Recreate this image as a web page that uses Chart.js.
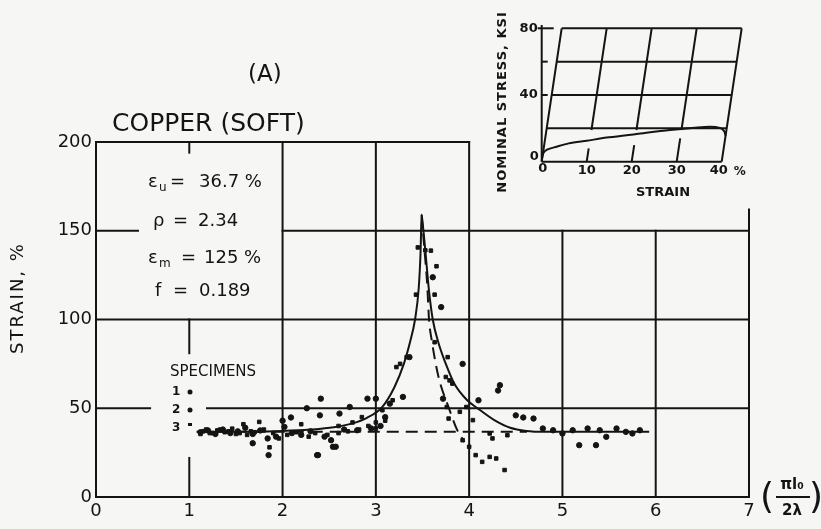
<!DOCTYPE html>
<html>
<head>
<meta charset="utf-8">
<script src="https://cdn.jsdelivr.net/npm/chart.js@4.4.0/dist/chart.umd.min.js"></script>
<style>
  html, body { margin: 0; padding: 0; background: #f6f6f4; }
  #wrap { position: relative; width: 821px; height: 529px; overflow: hidden; }
  #main { position: absolute; left: 0; top: 0; }
  #inset { position: absolute; left: 470px; top: 0; }
</style>
</head>
<body>
<div id="wrap">
  <canvas id="main" width="821" height="529"></canvas>
  <canvas id="inset" width="351" height="210"></canvas>
</div>
<script>
// eixos do gráfico principal
const xTicks = [0, 1, 2, 3, 4, 5, 6, 7];
const yTicks = [0, 50, 100, 150, 200];

// curva teórica (linha cheia)
const teoriaX = [1.08, 1.6, 2.0, 2.3, 2.55, 2.75, 2.9, 3.065, 3.2, 3.3, 3.37, 3.42, 3.46, 3.48, 3.49,
                 3.5, 3.53, 3.57, 3.61, 3.67, 3.75, 3.84, 3.98, 4.09, 4.27, 4.44, 4.62, 4.8, 5.93];
const teoriaY = [36.7, 36.8, 37.2, 38, 39.3, 41.5, 44.5, 50.5, 62, 75, 88, 100, 118, 139, 159,
                 155, 139, 116, 100, 87, 75, 64, 54.5, 50, 43.3, 39, 37.2, 36.7, 36.7];

// ramo tracejado (descida rápida)
const tracoX = [3.49, 3.52, 3.55, 3.57, 3.6, 3.67, 3.78, 3.87, 3.95];
const tracoY = [159, 140, 120, 100, 88, 68, 50.5, 38, 31];

// linha tracejada de εu
const euX = [1.08, 4.62];
const euY = [36.7, 36.7];

// pontos experimentais
const spec1X = [2.00, 2.09, 2.26, 2.41, 2.40, 2.61, 2.72, 2.91, 3.00, 3.15, 3.29, 3.36, 3.61, 3.70, 3.72,
                3.93, 4.31, 4.33, 4.10, 4.50, 4.58, 4.69, 5.18, 5.36, 2.37, 1.68, 2.02];
const spec1Y = [43, 44.8, 50, 55.4, 46, 47, 50.7, 55.4, 55.4, 52.6, 56.4, 78.8, 123.8, 107, 55.4,
                75, 60, 63, 54.5, 46, 44.8, 44.2, 29.2, 29.2, 23.6, 30.3, 39.5];
const spec2X = [1.12, 1.2, 1.28, 1.36, 1.44, 1.52, 1.6, 1.68, 1.76, 1.84, 1.93, 2.1, 2.2, 2.3, 2.45, 2.52,
                2.57, 2.66, 2.8, 2.95, 3.05, 3.1, 4.79, 4.9, 5.0, 5.11, 5.27, 5.4, 5.47, 5.58, 5.68,
                5.75, 5.83, 1.85, 2.38, 2.54];
const spec2Y = [36.5, 37.5, 35.5, 38, 36, 37, 39, 35.5, 37.5, 33, 34, 36, 35, 37, 34, 32,
                28.3, 38, 37.6, 38.6, 40, 45, 38.6, 37.6, 35.8, 37.6, 38.6, 37.6, 33.9, 38.6, 36.7,
                35.8, 37.6, 23.6, 23.6, 28.3];
const spec3X = [1.15, 1.25, 1.33, 1.42, 1.5, 1.58, 1.66, 1.75, 1.86, 2.2, 2.6, 2.75, 2.85, 3.0, 3.07,
                3.18, 3.22, 3.26, 3.33, 3.43, 3.45, 3.53, 3.59, 3.63, 3.65, 3.63, 3.77, 3.75, 3.82,
                3.79, 3.76, 3.78, 3.90, 3.97, 4.04, 3.93, 4.0, 4.07, 4.14, 4.22, 4.29, 4.38, 4.22,
                4.25, 4.41,
                1.12, 1.18, 1.22, 1.3, 1.38, 1.46, 1.54, 1.62, 1.7, 1.8, 1.9, 1.96, 2.05, 2.15,
                2.28, 2.35, 2.48, 2.6, 2.7, 2.82, 2.92, 3.0, 3.1];
const spec3Y = [37, 36, 38, 37, 35.5, 41, 37, 42.3, 28, 41, 40, 42, 45, 38.6, 48.9,
                54.5, 73.2, 75, 78.8, 114, 140.6, 139, 138.8, 114, 130, 87.2, 78.8, 67.6, 63.9,
                65.7, 50.7, 44.2, 48, 50.7, 43.3, 32, 28.3, 23.6, 19.8, 22.6, 21.7, 15.2, 35.8,
                33, 34.8,
                35.5, 38, 36, 37.5, 36.5, 38.5, 36, 35, 36.5, 38, 36, 33, 35, 36.5,
                34, 36, 35, 36, 37, 38, 40, 42, 43];

// gráfico inserido: curva tensão-deformação
const curvaX = [0, 0.36, 1.2, 3.3, 6, 10, 15, 21.1, 28.5, 34, 37.4, 39.6, 40.5, 40.9];
const curvaY = [1, 5, 7.2, 9, 11, 12.6, 14.6, 16.6, 19, 20.4, 21, 20.3, 18.5, 15.5];
const insetStrainTicks = [0, 10, 20, 30, 40];
const insetStressTicks = [0, 20, 40, 60, 80];

const pts = (xs, ys) => xs.map((x, i) => ({ x: x, y: ys[i] }));
const INK = '#141414';
const FONT = '"DejaVu Sans", sans-serif';

// linhas da grade (com as interrupções do original)
const gradeSegmentos = [
  [0, 0, 7, 0], [0, 0, 0, 200], [0, 200, 4, 200],
  [0, 50, 0.58, 50], [1.19, 50, 7, 50],
  [0, 100, 7, 100],
  [0, 150, 0.45, 150], [2, 150, 7, 150],
  [1, 200, 1, 194], [1, 100, 1, 81], [1, 22, 1, 0],
  [2, 0, 2, 200], [3, 0, 3, 200], [4, 0, 4, 200],
  [5, 0, 5, 150], [6, 0, 6, 150], [7, 0, 7, 162]
];

function txt(ctx, s, x, y, font, align) {
  ctx.font = font;
  ctx.textAlign = align || 'left';
  ctx.textBaseline = 'middle';
  ctx.fillText(s, x, y);
}

const gradePlugin = {
  id: 'grade',
  beforeDatasetsDraw(chart) {
    const ctx = chart.ctx, sx = chart.scales.x, sy = chart.scales.y;
    ctx.save();
    ctx.strokeStyle = INK;
    ctx.lineWidth = 2;
    ctx.lineCap = 'square';
    gradeSegmentos.forEach(s => {
      ctx.beginPath();
      ctx.moveTo(sx.getPixelForValue(s[0]), sy.getPixelForValue(s[1]));
      ctx.lineTo(sx.getPixelForValue(s[2]), sy.getPixelForValue(s[3]));
      ctx.stroke();
    });
    ctx.restore();
  },
  afterDraw(chart) {
    const ctx = chart.ctx;
    ctx.save();
    ctx.fillStyle = INK;
    txt(ctx, '(A)', 248, 75, '23px ' + FONT);
    txt(ctx, 'COPPER (SOFT)', 112, 124, '25px ' + FONT);

    // parâmetros
    const f18 = '18px ' + FONT, f12 = '12px ' + FONT;
    txt(ctx, 'ε', 148, 182, f18); txt(ctx, 'u', 159, 188, f12);
    txt(ctx, '=', 170, 182, f18); txt(ctx, '36.7 %', 199, 182, f18);
    txt(ctx, 'ρ', 153, 221, f18); txt(ctx, '=', 173, 221, f18); txt(ctx, '2.34', 198, 221, f18);
    txt(ctx, 'ε', 148, 258, f18); txt(ctx, 'm', 159, 264, f12);
    txt(ctx, '=', 181, 258, f18); txt(ctx, '125 %', 204, 258, f18);
    txt(ctx, 'f', 155, 291, f18); txt(ctx, '=', 173, 291, f18); txt(ctx, '0.189', 199, 291, f18);

    // legenda dos corpos de prova
    txt(ctx, 'SPECIMENS', 170, 372, '15px ' + FONT);
    const fb = 'bold 12px ' + FONT;
    txt(ctx, '1', 172, 392, fb); txt(ctx, '2', 172, 410, fb); txt(ctx, '3', 172, 428, fb);
    ctx.beginPath(); ctx.arc(190, 392, 2.5, 0, Math.PI * 2); ctx.fill();
    ctx.beginPath(); ctx.arc(190, 410, 2.5, 0, Math.PI * 2); ctx.fill();
    ctx.fillRect(188, 423, 4, 3);

    // título do eixo y
    ctx.save();
    ctx.translate(18, 298);
    ctx.rotate(-Math.PI / 2);
    ctx.letterSpacing = '2px';
    txt(ctx, 'STRAIN, %', 0, 0, '18px ' + FONT, 'center');
    ctx.restore();

    // título do eixo x (fração)
    txt(ctx, '(', 767, 499, '36px ' + FONT, 'center');
    txt(ctx, ')', 816, 499, '36px ' + FONT, 'center');
    txt(ctx, 'πl₀', 792, 485, 'bold 15px ' + FONT, 'center');
    txt(ctx, '2λ', 792, 511, 'bold 15px ' + FONT, 'center');
    ctx.fillRect(776, 496, 34, 2);
    ctx.restore();
  }
};

const lineDs = (data, dash) => ({
  data: data, showLine: true, pointRadius: 0, borderColor: INK, borderWidth: 2,
  borderDash: dash, cubicInterpolationMode: 'monotone', fill: false
});
const ptDs = (data, style, r) => ({
  data: data, showLine: false, pointStyle: style, pointRadius: r,
  backgroundColor: INK, borderColor: INK, borderWidth: 1
});

new Chart(document.getElementById('main'), {
  type: 'scatter',
  data: {
    datasets: [
      lineDs(pts(teoriaX, teoriaY), []),
      lineDs(pts(tracoX, tracoY), [12, 7]),
      lineDs(pts(euX, euY), [12, 7]),
      ptDs(pts(spec1X, spec1Y), 'circle', 2.7),
      ptDs(pts(spec2X, spec2Y), 'circle', 2.7),
      ptDs(pts(spec3X, spec3Y), 'rect', 2.5)
    ]
  },
  options: {
    responsive: false,
    animation: false,
    layout: { padding: { top: 142, right: 72, left: 0, bottom: 0 } },
    plugins: { legend: { display: false }, tooltip: { enabled: false } },
    scales: {
      x: {
        type: 'linear', min: 0, max: 7,
        afterBuildTicks: s => { s.ticks = xTicks.map(v => ({ value: v })); },
        afterFit: s => { s.height = 32; },
        grid: { display: false, drawTicks: false },
        border: { display: false },
        ticks: { color: INK, padding: 4, font: { family: 'DejaVu Sans', size: 18 } }
      },
      y: {
        type: 'linear', min: 0, max: 200,
        afterBuildTicks: s => { s.ticks = yTicks.map(v => ({ value: v })); },
        afterFit: s => { s.width = 96; },
        grid: { display: false, drawTicks: false },
        border: { display: false },
        ticks: { color: INK, padding: 4, font: { family: 'DejaVu Sans', size: 18 } }
      }
    }
  },
  plugins: [gradePlugin]
});

// ---- gráfico inserido (grade inclinada) ----
const INC = 4.44 / 80; // inclinação das linhas verticais (% por ksi)
const insetPlugin = {
  id: 'insetGrade',
  beforeDatasetsDraw(chart) {
    const ctx = chart.ctx, sx = chart.scales.x, sy = chart.scales.y;
    const P = (s, v) => [sx.getPixelForValue(s), sy.getPixelForValue(v)];
    const seg = (a, b) => { ctx.beginPath(); ctx.moveTo(a[0], a[1]); ctx.lineTo(b[0], b[1]); ctx.stroke(); };
    ctx.save();
    ctx.strokeStyle = INK;
    ctx.lineWidth = 2;
    insetStressTicks.forEach(v => seg(P(INC * v, v), P(40 + INC * v, v)));
    insetStrainTicks.forEach(s => {
      if (s === 0 || s === 40) {
        seg(P(s, 0), P(s + INC * 80, 80));
      } else {
        const gap = s === 30 ? 14 : (s === 10 ? 8 : 10);
        seg(P(s, 0), P(s + INC * gap, gap));
        seg(P(s + INC * 19, 19), P(s + INC * 80, 80));
      }
    });
    // eixo vertical com marcas
    const o = P(0, 0);
    seg(o, P(0, 82));
    [40, 60].forEach(v => { const p = P(0, v); seg(p, [p[0] + 6, p[1]]); });
    const t = P(0, 80);
    seg([t[0] - 4, t[1]], [t[0] + 12, t[1]]);
    ctx.restore();
  },
  afterDraw(chart) {
    const ctx = chart.ctx, sx = chart.scales.x, sy = chart.scales.y;
    const f = 'bold 13px ' + FONT;
    const y0 = sy.getPixelForValue(0), x0 = sx.getPixelForValue(0);
    ctx.save();
    ctx.fillStyle = INK;
    txt(ctx, '80', x0 - 4, sy.getPixelForValue(80), f, 'right');
    txt(ctx, '40', x0 - 4, sy.getPixelForValue(40), f, 'right');
    txt(ctx, '0', x0 - 3, y0 - 5, f, 'right');
    txt(ctx, '0', x0 + 1, y0 + 7, f, 'center');
    [10, 20, 30].forEach(s => txt(ctx, String(s), sx.getPixelForValue(s), y0 + 9, f, 'center'));
    txt(ctx, '40', sx.getPixelForValue(40) - 3, y0 + 9, f, 'center');
    txt(ctx, '%', sx.getPixelForValue(40) + 18, y0 + 10, 'bold 12px ' + FONT, 'center');
    txt(ctx, 'STRAIN', 193, y0 + 31, f, 'center');
    ctx.translate(33, 102);
    ctx.rotate(-Math.PI / 2);
    ctx.letterSpacing = '1px';
    txt(ctx, 'NOMINAL STRESS, KSI', 0, 0, f, 'center');
    ctx.restore();
  }
};

new Chart(document.getElementById('inset'), {
  type: 'scatter',
  data: { datasets: [ Object.assign(lineDs(pts(curvaX, curvaY), []), { cubicInterpolationMode: 'default', tension: 0.3 }) ] },
  options: {
    responsive: false,
    animation: false,
    layout: { padding: { left: 71.7, right: 76.8, top: 28.3, bottom: 48.3 } },
    plugins: { legend: { display: false }, tooltip: { enabled: false } },
    scales: {
      x: { type: 'linear', min: 0, max: 45, display: false },
      y: { type: 'linear', min: 0, max: 80, display: false }
    }
  },
  plugins: [insetPlugin]
});
</script>
</body>
</html>
